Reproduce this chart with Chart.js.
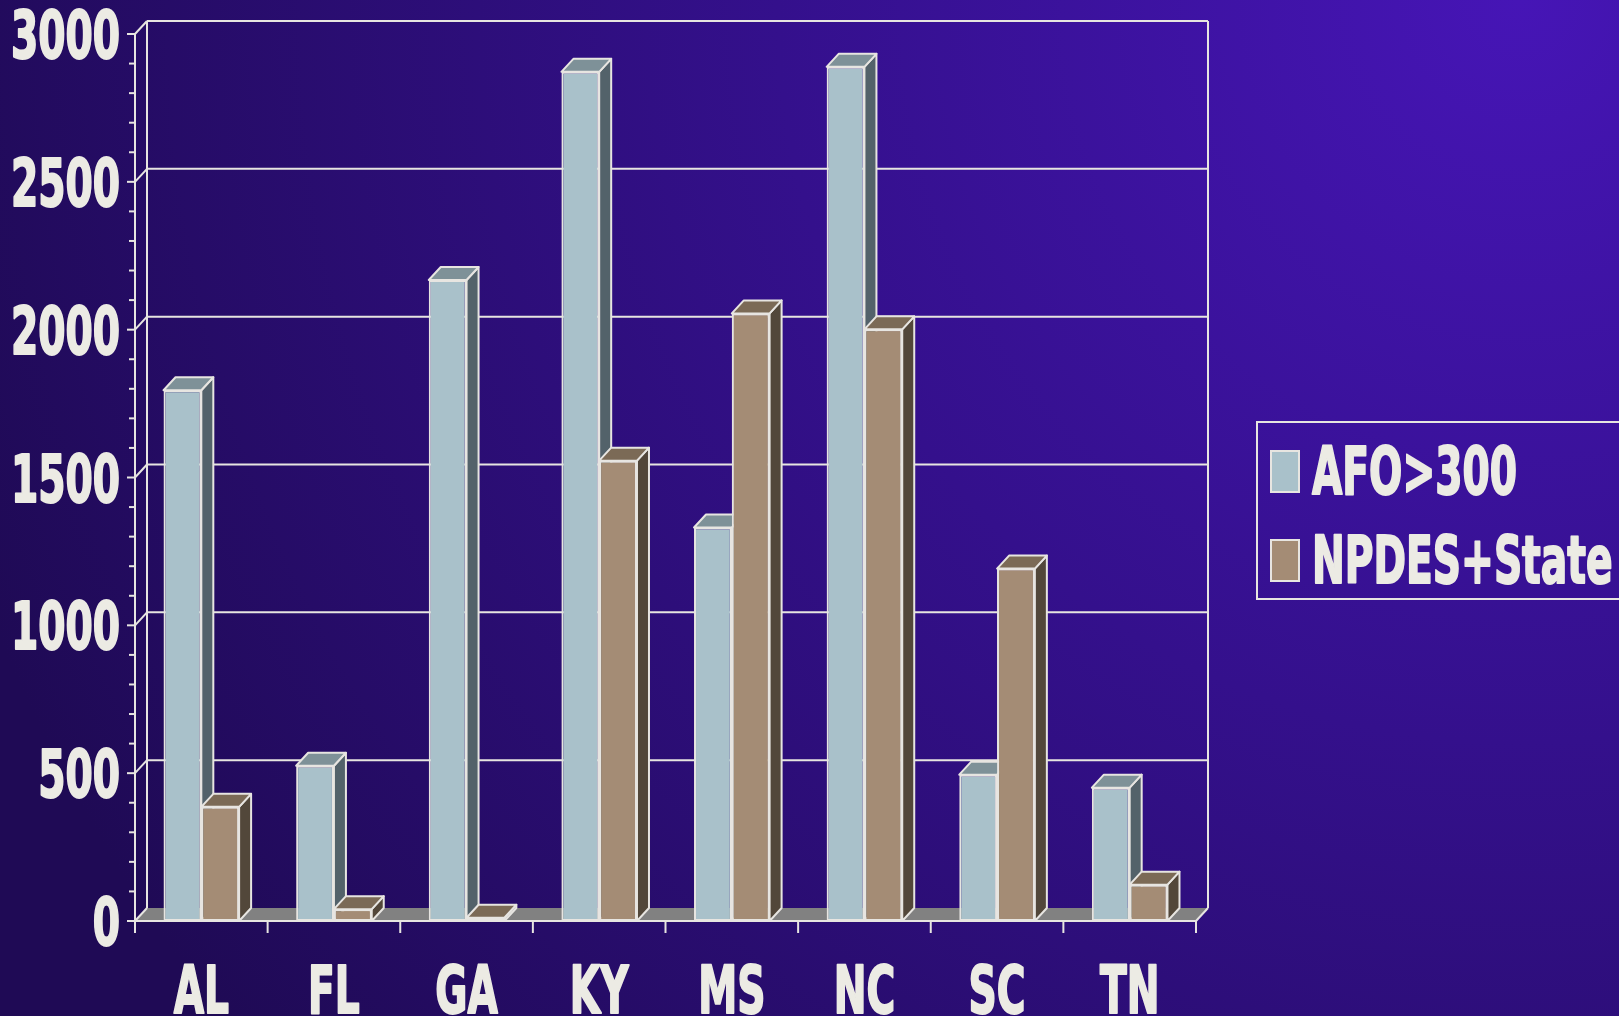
<!DOCTYPE html>
<html lang="en">
<head>
<meta charset="UTF-8">
<title>AFO x NPDES</title>
<script src="https://cdn.jsdelivr.net/npm/chart.js"></script>
<style>
  html, body { margin: 0; padding: 0; background: #1f0a55; overflow: hidden; }
  .janela { position: relative; width: 1619px; height: 1016px; }
</style>
</head>
<body>
<div class="janela"><canvas id="grafico"></canvas></div>

<script>
// dados
var estados = ['AL', 'FL', 'GA', 'KY', 'MS', 'NC', 'SC', 'TN'];
var afo = [1795, 525, 2168, 2872, 1331, 2889, 495, 451];
var npdes = [386, 40, 11, 1557, 2055, 2001, 1192, 123];
var series = ['AFO>300', 'NPDES+State'];
var yTicks = [0, 500, 1000, 1500, 2000, 2500, 3000];
var yMenor = 100;

// profundidade do efeito 3D
var dx = 12, dy = 13;
var corLinha = '#e7e5e1';
var corTexto = '#ecebe4';
var cores = [
  { frente: '#a9c1ca', lado: '#53626a', topo: '#7e9198' },
  { frente: '#a48c75', lado: '#52473a', topo: '#7b6a56' }
];
var fonte = 'bold 66px "DejaVu Sans Condensed", "DejaVu Sans", sans-serif';
var estreito = 0.66;

function linha(ctx, x1, y1, x2, y2) {
  ctx.beginPath();
  ctx.moveTo(x1, y1);
  ctx.lineTo(x2, y2);
  ctx.stroke();
}

// texto apertado na horizontal, com um contorno leve p/ ficar mais grosso
function texto(ctx, txt, x, y, align) {
  ctx.save();
  ctx.translate(x, y);
  ctx.scale(estreito, 1);
  ctx.textAlign = align;
  ctx.textBaseline = 'alphabetic';
  ctx.strokeStyle = corTexto;
  ctx.lineWidth = 2;
  ctx.lineJoin = 'round';
  ctx.strokeText(txt, 0, 0);
  ctx.fillText(txt, 0, 0);
  ctx.restore();
}

function caixa(ctx, el, cor) {
  var p = el.getProps(['x', 'y', 'base', 'width'], true);
  var L = p.x - p.width / 2, R = p.x + p.width / 2;
  var T = Math.min(p.y, p.base), B = Math.max(p.y, p.base);
  ctx.save();
  ctx.lineWidth = 2;
  ctx.lineJoin = 'round';
  ctx.strokeStyle = corLinha;
  // lado
  ctx.fillStyle = cor.lado;
  ctx.beginPath();
  ctx.moveTo(R, T); ctx.lineTo(R + dx, T - dy); ctx.lineTo(R + dx, B - dy); ctx.lineTo(R, B);
  ctx.closePath(); ctx.fill(); ctx.stroke();
  // topo
  ctx.fillStyle = cor.topo;
  ctx.beginPath();
  ctx.moveTo(L, T); ctx.lineTo(L + dx, T - dy); ctx.lineTo(R + dx, T - dy); ctx.lineTo(R, T);
  ctx.closePath(); ctx.fill(); ctx.stroke();
  ctx.restore();
}

var fundo = {
  id: 'fundo',
  beforeDraw: function (chart) {
    var ctx = chart.ctx;
    var g = ctx.createRadialGradient(1520, 0, 0, 1520, 0, 1650);
    g.addColorStop(0, '#4615b6');
    g.addColorStop(0.45, '#34108c');
    g.addColorStop(1, '#1f0a55');
    ctx.save();
    ctx.fillStyle = g;
    ctx.fillRect(0, 0, chart.width, chart.height);
    ctx.restore();
  }
};

var paredes = {
  id: 'paredes',
  beforeDatasetsDraw: function (chart) {
    var ctx = chart.ctx, a = chart.chartArea, y = chart.scales.y, x = chart.scales.x;
    ctx.save();
    // chao
    ctx.fillStyle = '#818181';
    ctx.beginPath();
    ctx.moveTo(a.left, a.bottom); ctx.lineTo(a.right, a.bottom);
    ctx.lineTo(a.right + dx, a.bottom - dy); ctx.lineTo(a.left + dx, a.bottom - dy);
    ctx.closePath(); ctx.fill();

    ctx.strokeStyle = corLinha;
    ctx.lineWidth = 2;
    yTicks.forEach(function (v) {
      var py = y.getPixelForValue(v);
      if (v > 0) linha(ctx, a.left + dx, py - dy, a.right + dx, py - dy);
      linha(ctx, a.left, py, a.left + dx, py - dy);
      linha(ctx, a.left - 8, py, a.left, py);
    });
    for (var v = 0; v <= y.max; v += yMenor) {
      if (v % 500 !== 0) {
        var py = y.getPixelForValue(v);
        linha(ctx, a.left - 6, py, a.left, py);
      }
    }
    // parede do fundo
    linha(ctx, a.left + dx, a.top - dy, a.left + dx, a.bottom - dy);
    linha(ctx, a.right + dx, a.top - dy, a.right + dx, a.bottom - dy);
    // eixo da frente
    linha(ctx, a.left, a.top, a.left, a.bottom);
    linha(ctx, a.right, a.bottom, a.right + dx, a.bottom - dy);
    linha(ctx, a.left - 8, a.bottom, a.right, a.bottom);
    // marcas do eixo x
    var w = x.getPixelForValue(1) - x.getPixelForValue(0);
    for (var i = 0; i <= estados.length; i++) {
      var px = x.getPixelForValue(0) - w / 2 + i * w;
      linha(ctx, px, a.bottom, px, a.bottom + 12);
    }
    ctx.restore();
  }
};

var barras3d = {
  id: 'barras3d',
  afterDatasetsDraw: function (chart) {
    var ctx = chart.ctx;
    var m0 = chart.getDatasetMeta(0), m1 = chart.getDatasetMeta(1);
    for (var i = 0; i < estados.length; i++) {
      caixa(ctx, m0.data[i], cores[0]);
      m1.data[i].draw(ctx);
      caixa(ctx, m1.data[i], cores[1]);
    }
  }
};

var rotulos = {
  id: 'rotulos',
  afterDraw: function (chart) {
    var ctx = chart.ctx, y = chart.scales.y, x = chart.scales.x;
    ctx.save();
    ctx.font = fonte;
    ctx.fillStyle = corTexto;
    yTicks.forEach(function (v) {
      texto(ctx, String(v), 120, y.getPixelForValue(v) + 24, 'right');
    });
    estados.forEach(function (s, i) {
      texto(ctx, s, x.getPixelForValue(i), 1013, 'center');
    });

    // legenda
    ctx.strokeStyle = corLinha;
    ctx.lineWidth = 2;
    ctx.strokeRect(1257, 422, 400, 177);
    var linhasLeg = [494, 583];
    series.forEach(function (s, i) {
      ctx.fillStyle = cores[i].frente;
      ctx.fillRect(1271, linhasLeg[i] - 43, 28, 41);
      ctx.strokeStyle = corLinha;
      ctx.strokeRect(1271, linhasLeg[i] - 43, 28, 41);
      ctx.fillStyle = corTexto;
      texto(ctx, s, 1312, linhasLeg[i], 'left');
    });
    ctx.restore();
  }
};

new Chart(document.getElementById('grafico'), {
  type: 'bar',
  data: {
    labels: estados,
    datasets: [{
      label: series[0],
      data: afo,
      backgroundColor: cores[0].frente,
      borderColor: corLinha,
      borderWidth: 2,
      borderSkipped: false
    }, {
      label: series[1],
      data: npdes,
      backgroundColor: cores[1].frente,
      borderColor: corLinha,
      borderWidth: 2,
      borderSkipped: false
    }]
  },
  options: {
    responsive: true,
    maintainAspectRatio: false,
    animation: false,
    layout: { padding: { left: 135, right: 423, top: 34, bottom: 95 } },
    datasets: { bar: { categoryPercentage: 0.57, barPercentage: 1 } },
    plugins: { legend: { display: false }, tooltip: { enabled: false } },
    scales: {
      x: { display: false },
      y: { display: false, min: 0, max: 3000 }
    }
  },
  plugins: [fundo, paredes, barras3d, rotulos]
});
</script>
</body>
</html>
